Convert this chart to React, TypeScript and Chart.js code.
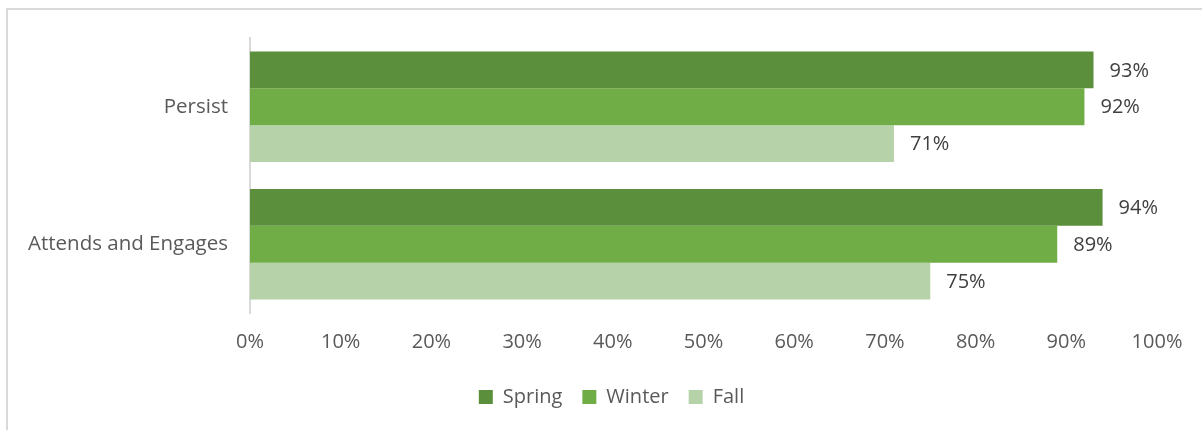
import React, { useEffect, useRef } from "react";
import { Chart, registerables } from "chart.js";

Chart.register(...registerables);

const categories = ["Persist", "Attends and Engages"];
const seriesNames = ["Spring", "Winter", "Fall"];
const springValues = [93, 94];
const winterValues = [92, 89];
const fallValues = [71, 75];
const tickValues = [0, 10, 20, 30, 40, 50, 60, 70, 80, 90, 100];
const seriesColors = ["#5b8f3b", "#70ad47", "#b5d2a8"];

const FONT = "'Open Sans', sans-serif";

const dataLabelPlugin = {
  id: "dataLabels",
  afterDatasetsDraw(chart: any) {
    const ctx = chart.ctx;
    ctx.save();
    ctx.font = `20px ${FONT}`;
    ctx.fillStyle = "#404040";
    ctx.textAlign = "left";
    ctx.textBaseline = "middle";
    chart.data.datasets.forEach((ds: any, di: number) => {
      const meta = chart.getDatasetMeta(di);
      meta.data.forEach((bar: any, i: number) => {
        ctx.fillText(`${ds.data[i]}%`, bar.x + 16, bar.y + 1);
      });
    });
    ctx.restore();
  },
};

const legendShiftPlugin = {
  id: "legendShift",
  afterLayout(chart: any) {
    if (chart.legend) {
      chart.legend.left += 33;
      chart.legend.right += 33;
    }
  },
};

export default function App() {
  const ref = useRef<HTMLCanvasElement | null>(null);
  useEffect(() => {
    if (!ref.current) return;
    const chart = new Chart(ref.current, {
      type: "bar",
      data: {
        labels: categories,
        datasets: [
          { label: seriesNames[0], data: springValues, backgroundColor: seriesColors[0] },
          { label: seriesNames[1], data: winterValues, backgroundColor: seriesColors[1] },
          { label: seriesNames[2], data: fallValues, backgroundColor: seriesColors[2] },
        ],
      },
      options: {
        indexAxis: "y",
        animation: false,
        responsive: false,
        maintainAspectRatio: false,
        layout: { padding: { top: 38, right: 45, left: 0, bottom: 13 } },
        datasets: { bar: { barPercentage: 1, categoryPercentage: 0.803 } },
        scales: {
          x: {
            min: 0,
            max: 100,
            afterBuildTicks: (scale: any) => {
              scale.ticks = tickValues.map((v) => ({ value: v }));
            },
            afterFit: (scale: any) => {
              scale.height = 54;
            },
            grid: { display: false, drawTicks: false },
            border: { display: false },
            ticks: {
              autoSkip: false,
              maxRotation: 0,
              padding: 17,
              color: "#595959",
              font: { family: FONT, size: 20 },
              callback: (v: any) => `${v}%`,
            },
          },
          y: {
            afterFit: (scale: any) => {
              scale.width = 250;
            },
            grid: { display: false, drawTicks: false },
            border: { display: true, color: "#d9d9d9", width: 2 },
            ticks: {
              padding: 22,
              color: "#595959",
              font: { family: FONT, size: 20.5 },
            },
          },
        },
        plugins: {
          legend: {
            position: "bottom",
            labels: {
              boxWidth: 14,
              boxHeight: 14,
              padding: 20,
              color: "#595959",
              font: { family: FONT, size: 20 },
            },
          },
          tooltip: { enabled: false },
        },
      },
      plugins: [dataLabelPlugin, legendShiftPlugin],
    } as any);
    return () => chart.destroy();
  }, []);

  return (
    <div style={{ position: "absolute", left: 0, top: 0, width: 1202, height: 430, overflow: "hidden" }}>
      <div
        style={{
          position: "absolute",
          left: 6,
          top: 8,
          width: 1194,
          height: 420,
          borderTop: "2px solid #d9d9d9",
          borderLeft: "2px solid #d9d9d9",
        }}
      />
      <canvas ref={ref} width={1202} height={430} style={{ position: "absolute", left: 0, top: 0 }} />
    </div>
  );
}
